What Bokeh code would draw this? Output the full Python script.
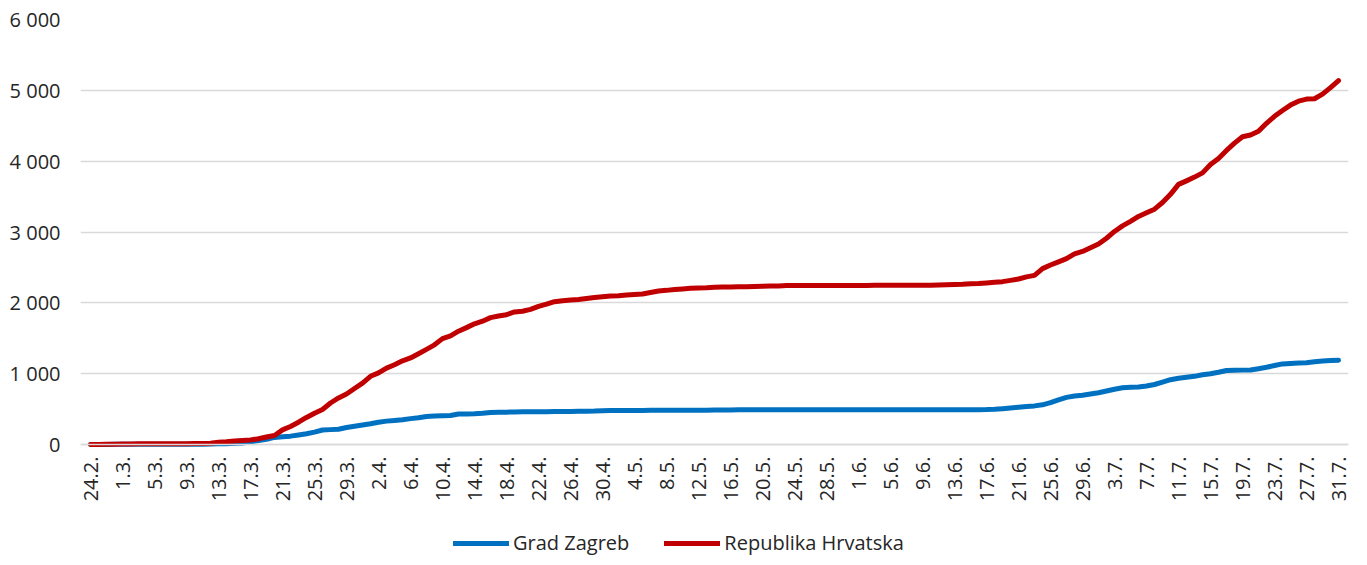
import math
from bokeh.plotting import figure
from bokeh.models import FixedTicker, Legend, LegendItem, Range1d
from bokeh.embed import file_html
from bokeh.resources import INLINE

# Shown category labels (every 4th day)
TICK_LABELS = ["24.2.", "1.3.", "5.3.", "9.3.", "13.3.", "17.3.", "21.3.", "25.3.", "29.3.",
               "2.4.", "6.4.", "10.4.", "14.4.", "18.4.", "22.4.", "26.4.", "30.4.",
               "4.5.", "8.5.", "12.5.", "16.5.", "20.5.", "24.5.", "28.5.",
               "1.6.", "5.6.", "9.6.", "13.6.", "17.6.", "21.6.", "25.6.", "29.6.",
               "3.7.", "7.7.", "11.7.", "15.7.", "19.7.", "23.7.", "27.7.", "31.7."]
TICK_STEP = 4

HRVATSKA = [0, 1, 3, 5,
            7, 7, 9, 10, 11, 11, 12, 12, 12, 13, 14, 19,
            32, 38, 49, 57, 65, 81, 105, 128,
            206, 254, 315, 382, 442, 495, 586, 657,
            713, 790, 867, 963, 1011, 1079, 1126, 1182,
            1222, 1282, 1343, 1407, 1495, 1534, 1600, 1650,
            1704, 1741, 1791, 1814, 1832, 1871, 1881, 1908,
            1950, 1981, 2016, 2030, 2039, 2047, 2062, 2076,
            2085, 2096, 2101, 2112, 2119, 2125, 2146, 2168,
            2176, 2187, 2196, 2205, 2209, 2213, 2221, 2222,
            2224, 2226, 2228, 2232, 2234, 2237, 2238, 2243,
            2244, 2244, 2244, 2245, 2245, 2246, 2246, 2246,
            2246, 2246, 2247, 2247, 2247, 2247, 2247, 2247,
            2249, 2249, 2252, 2254, 2258, 2262, 2269, 2273,
            2280, 2289, 2299, 2317, 2336, 2366, 2388, 2483,
            2534, 2579, 2625, 2691, 2725, 2777, 2831, 2912,
            3008, 3087, 3151, 3220, 3272, 3322, 3416, 3532,
            3672, 3722, 3775, 3835, 3953, 4039, 4151, 4254,
            4345, 4370, 4422, 4534, 4634, 4715, 4792, 4847,
            4877, 4881, 4947, 5039, 5138]

ZAGREB = [0, 1, 1, 2,
          2, 2, 3, 3, 4, 4, 4, 4, 4, 5, 5, 7,
          10, 12, 17, 22, 40, 55, 72, 100,
          110, 118, 135, 152, 175, 205, 210, 215,
          240, 258, 275, 292, 315, 330, 340, 350,
          365, 378, 395, 402, 405, 410, 430, 432,
          433, 440, 452, 455, 457, 458, 461, 462,
          463, 464, 465, 466, 467, 468, 470, 472,
          478, 479, 480, 480, 481, 481, 482, 482,
          483, 483, 484, 484, 485, 485, 486, 486,
          487, 490, 491, 491, 492, 492, 492, 492,
          492, 492, 492, 492, 492, 492, 492, 492,
          492, 492, 492, 492, 492, 492, 492, 492,
          492, 492, 492, 492, 492, 492, 492, 492,
          493, 497, 505, 515, 525, 535, 545, 560,
          590, 630, 665, 685, 695, 712, 730, 755,
          780, 800, 808, 812, 825, 847, 880, 915,
          935, 950, 962, 985, 1000, 1020, 1045, 1048,
          1050, 1052, 1070, 1090, 1115, 1138, 1145, 1150,
          1155, 1168, 1178, 1185, 1190]

Y_TICKS = [0, 1000, 2000, 3000, 4000, 5000, 6000]
Y_LABELS = ["0", "1 000", "2 000", "3 000", "4 000", "5 000", "6 000"]

SERIES_NAMES = ["Grad Zagreb", "Republika Hrvatska"]
COLORS = ["#0070C0", "#C00000"]

n = len(HRVATSKA)
xs = list(range(n))

FONT = "Open Sans"
TXT = "#262626"

# The value axis spans 0..6000 over 425 px; the frame extends 112 px further
# down so that the date labels and the legend sit inside it.
PX_VALUE = 425
PX_BELOW = 112
Y_MAX = 6000
y_start = -PX_BELOW * Y_MAX / PX_VALUE
X_PAD = 1.25  # categories of room at each side so edge labels are not clipped
PX_PER_CAT = 8
frame_w = int(round((n - 1 + 2 * X_PAD) * PX_PER_CAT))
BORDER_LEFT = 80
BORDER_RIGHT = 1351 - BORDER_LEFT - frame_w

p = figure(frame_width=frame_w, frame_height=PX_VALUE + PX_BELOW, output_backend="svg",
           toolbar_location=None,
           x_range=Range1d(-X_PAD, n - 1 + X_PAD), y_range=Range1d(y_start, Y_MAX),
           min_border_left=BORDER_LEFT, min_border_right=BORDER_RIGHT,
           min_border_top=19, min_border_bottom=0)
p.outline_line_color = None
p.background_fill_color = "white"
p.border_fill_color = "white"

p.xgrid.visible = False
p.ygrid.grid_line_color = "#d9d9d9"
p.ygrid.grid_line_width = 1.5

p.yaxis.ticker = FixedTicker(ticks=Y_TICKS)
p.yaxis.major_label_overrides = {t: l for t, l in zip(Y_TICKS, Y_LABELS)}
p.yaxis.axis_line_color = None
p.yaxis.major_tick_line_color = None
p.yaxis.minor_tick_line_color = None
p.yaxis.major_tick_in = 0
p.yaxis.major_tick_out = 0
p.yaxis.minor_tick_in = 0
p.yaxis.minor_tick_out = 0
p.yaxis.major_label_standoff = 20
p.yaxis.major_label_text_font = FONT
p.yaxis.major_label_text_font_size = "20px"
p.yaxis.major_label_text_color = TXT

tick_pos = [i * TICK_STEP for i in range(len(TICK_LABELS))]
p.xaxis.fixed_location = 0
p.xaxis.ticker = FixedTicker(ticks=tick_pos)
p.xaxis.major_label_overrides = {t: l for t, l in zip(tick_pos, TICK_LABELS)}
p.xaxis.major_label_orientation = math.pi / 2
p.xaxis.axis_line_color = "#d9d9d9"
p.xaxis.axis_line_width = 1.5
p.xaxis.major_tick_line_color = None
p.xaxis.minor_tick_line_color = None
p.xaxis.major_tick_in = 0
p.xaxis.major_tick_out = 0
p.xaxis.minor_tick_in = 0
p.xaxis.minor_tick_out = 0
p.xaxis.major_label_standoff = 12
p.xaxis.major_label_text_font = FONT
p.xaxis.major_label_text_font_size = "20px"
p.xaxis.major_label_text_color = TXT

r1 = p.line(xs, ZAGREB, line_color=COLORS[0], line_width=5, line_cap="round", line_join="round")
r2 = p.line(xs, HRVATSKA, line_color=COLORS[1], line_width=5, line_cap="round", line_join="round")

legend = Legend(items=[LegendItem(label=SERIES_NAMES[0], renderers=[r1]),
                       LegendItem(label=SERIES_NAMES[1], renderers=[r2])],
                orientation="horizontal", location=(373, 0))
legend.border_line_color = None
legend.background_fill_alpha = 0
legend.glyph_width = 56
legend.glyph_height = 20
legend.label_height = 20
legend.label_standoff = 4
legend.spacing = 35
legend.padding = 0
legend.margin = 0
legend.label_text_font = FONT
legend.label_text_font_size = "20px"
legend.label_text_color = TXT
p.add_layout(legend, "center")

open("out.html", "w").write(file_html(p, INLINE))
